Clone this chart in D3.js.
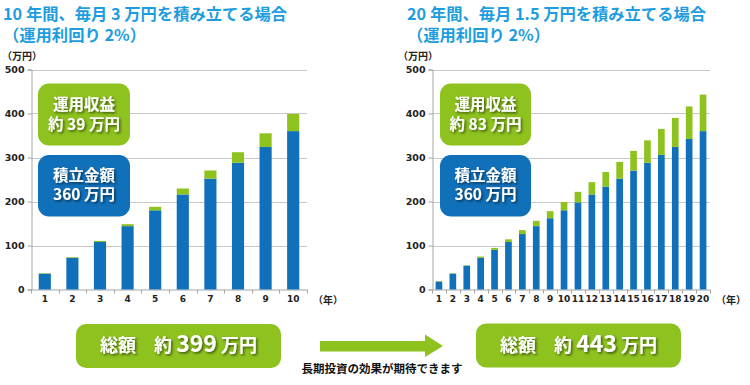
<!DOCTYPE html>
<html><head><meta charset="utf-8">
<script src="https://cdn.jsdelivr.net/npm/d3@7/dist/d3.min.js"></script>
<style>
body{margin:0;background:#fff;}
svg{display:block;font-family:"Noto Sans CJK JP","Noto Sans",sans-serif;}
</style></head>
<body><svg id="c" width="750" height="385"></svg>
<script>
// ---- data ----
const years10 = ["1","2","3","4","5","6","7","8","9","10"];
const principal10 = [36,72,108,144,180,216,252,288,324,360];
const total10 = [37,73.5,110.5,148.5,188,229.5,270.5,312,355,399];
const years20 = ["1","2","3","4","5","6","7","8","9","10","11","12","13","14","15","16","17","18","19","20"];
const principal20 = [18,36,54,72,90,108,126,144,162,180,198,216,234,252,270,288,306,324,342,360];
const total20 = [19,37,55,75,94.5,114,135,156,178,199,222,244,267,290,315,339,365,390,416,443];
const yTicks = [0,100,200,300,400,500];
const titles = [["10 年間、毎月 3 万円を積み立てる場合","（運用利回り 2%）"],["20 年間、毎月 1.5 万円を積み立てる場合","（運用利回り 2%）"]];
const gainLabels = [["運用収益","約 39 万円"],["運用収益","約 83 万円"]];
const principalLabels = ["積立金額","360 万円"];
const totalLabels = [["総額　約 ","399"," 万円"],["総額　約 ","443"," 万円"]];
const caption = "長期投資の効果が期待できます";

const BLUE="#1170ba", GREEN="#8dc21f", TITLE="#1d9de0";
const svg = d3.select("#c");
const defs = svg.append("defs");
const f = defs.append("filter").attr("id","sh").attr("x","-20%").attr("y","-20%").attr("width","140%").attr("height","140%");
f.append("feDropShadow").attr("dx",1.5).attr("dy",1.5).attr("stdDeviation",1).attr("flood-color","#000").attr("flood-opacity",0.55);

function chart(cfg){
  const g = svg.append("g");
  const x = d3.scaleBand().domain(cfg.years).range([cfg.x0,cfg.x1]).paddingInner(cfg.pad).paddingOuter(cfg.pad/2);
  const y = d3.scaleLinear().domain([0,500]).range([289.5,69.5]);
  // grid
  g.selectAll(".gr").data(yTicks.slice(1)).join("line")
    .attr("x1",cfg.x0).attr("x2",cfg.x1).attr("y1",d=>Math.round(y(d))+0.5).attr("y2",d=>Math.round(y(d))+0.5)
    .attr("stroke","#c8c8c8").attr("stroke-width",1);
  // axes
  const ya = g.append("g").attr("transform",`translate(${cfg.x0+0.5},0)`)
    .call(d3.axisLeft(y).tickValues(yTicks).tickSize(4).tickPadding(3));
  ya.select(".domain").attr("stroke","#a6a6a6");
  ya.selectAll(".tick line").attr("stroke","#a6a6a6");
  ya.selectAll("text").attr("font-weight","bold").attr("fill","#222").attr("font-family","'DejaVu Sans',sans-serif").style("font-size","9.5px");
  const xa = g.append("g").attr("transform",`translate(0,${y(0)})`)
    .call(d3.axisBottom(x).tickSize(0).tickPadding(6));
  xa.select(".domain").attr("stroke","#a6a6a6");
  xa.selectAll("text").attr("font-weight","bold").attr("fill","#222").attr("font-family","'DejaVu Sans',sans-serif").style("font-size","9px");
  // small tick marks between categories
  const bw = x.step();
  g.selectAll(".xt").data(d3.range(cfg.years.length+1)).join("line")
    .attr("x1",d=>Math.round(cfg.x0+d*bw)+0.5).attr("x2",d=>Math.round(cfg.x0+d*bw)+0.5)
    .attr("y1",y(0)).attr("y2",y(0)+4).attr("stroke","#a6a6a6");
  // bars
  g.selectAll(".bp").data(cfg.years).join("rect")
    .attr("x",d=>x(d)).attr("width",x.bandwidth())
    .attr("y",(d,i)=>y(cfg.principal[i])).attr("height",(d,i)=>y(0)-y(cfg.principal[i]))
    .attr("fill",BLUE);
  g.selectAll(".bg").data(cfg.years).join("rect")
    .attr("x",d=>x(d)).attr("width",x.bandwidth())
    .attr("y",(d,i)=>y(cfg.total[i])).attr("height",(d,i)=>y(cfg.principal[i])-y(cfg.total[i]))
    .attr("fill",GREEN);
  // unit labels
  g.append("text").attr("x",cfg.unitX).attr("y",60).text("（万円）")
    .attr("font-size",10).attr("font-weight","bold").attr("fill","#222");
  g.append("text").attr("x",cfg.x1+6).attr("y",y(0)+14).text("（年）")
    .attr("font-size",10).attr("font-weight","bold").attr("fill","#222");
  // title
  cfg.title.forEach((t,i)=>g.append("text").attr("x",cfg.titleX).attr("y",20+i*20.5).text(t)
    .attr("font-size",16.3).attr("font-weight","bold").attr("fill",TITLE));
  // label boxes
  function box(y0,y1,fill,lines,ly){
    g.append("rect").attr("x",cfg.bx0).attr("y",y0).attr("width",cfg.bx1-cfg.bx0).attr("height",y1-y0)
      .attr("rx",11).attr("fill",fill);
    lines.forEach((t,i)=>g.append("text").attr("x",(cfg.bx0+cfg.bx1)/2).attr("y",ly[i]).text(t)
      .attr("text-anchor","middle").attr("font-size",15.5).attr("font-weight","bold").attr("fill","#fff")
      .attr("filter","url(#sh)"));
  }
  box(83.5,145.5,GREEN,cfg.gain,[110,129.5]);
  box(155,216.5,BLUE,principalLabels,[180.5,200]);
  // total box
  g.append("rect").attr("x",cfg.tx0).attr("y",cfg.ty0).attr("width",205).attr("height",44)
    .attr("rx",10).attr("fill",GREEN);
  const tt = g.append("text").attr("x",cfg.tx0+102.5).attr("y",cfg.ty0+28).attr("text-anchor","middle")
    .attr("font-weight","bold").attr("fill","#fff").attr("filter","url(#sh)").attr("font-size",18);
  tt.append("tspan").text(cfg.totalLbl[0]);
  tt.append("tspan").text(cfg.totalLbl[1]).attr("font-size",23);
  tt.append("tspan").text(cfg.totalLbl[2]);
}

chart({years:years10,principal:principal10,total:total10,x0:31,x1:307,pad:0.56,unitX:2,titleX:3,
  title:titles[0],gain:gainLabels[0],bx0:38,bx1:130,tx0:76,ty0:324,totalLbl:totalLabels[0]});
chart({years:years20,principal:principal20,total:total20,x0:432,x1:710,pad:0.52,unitX:398,titleX:407,
  title:titles[1],gain:gainLabels[1],bx0:440,bx1:531,tx0:476,ty0:323.5,totalLbl:totalLabels[1]});

// arrow
svg.append("path").attr("d","M320,341 L425,341 L425,334.5 L443,346 L425,357 L425,351.5 L320,351.5 Z").attr("fill",GREEN);
svg.append("text").attr("x",382).attr("y",372.5).attr("text-anchor","middle").text(caption)
  .attr("font-size",11.5).attr("font-weight","bold").attr("fill","#111");
</script></body></html>
